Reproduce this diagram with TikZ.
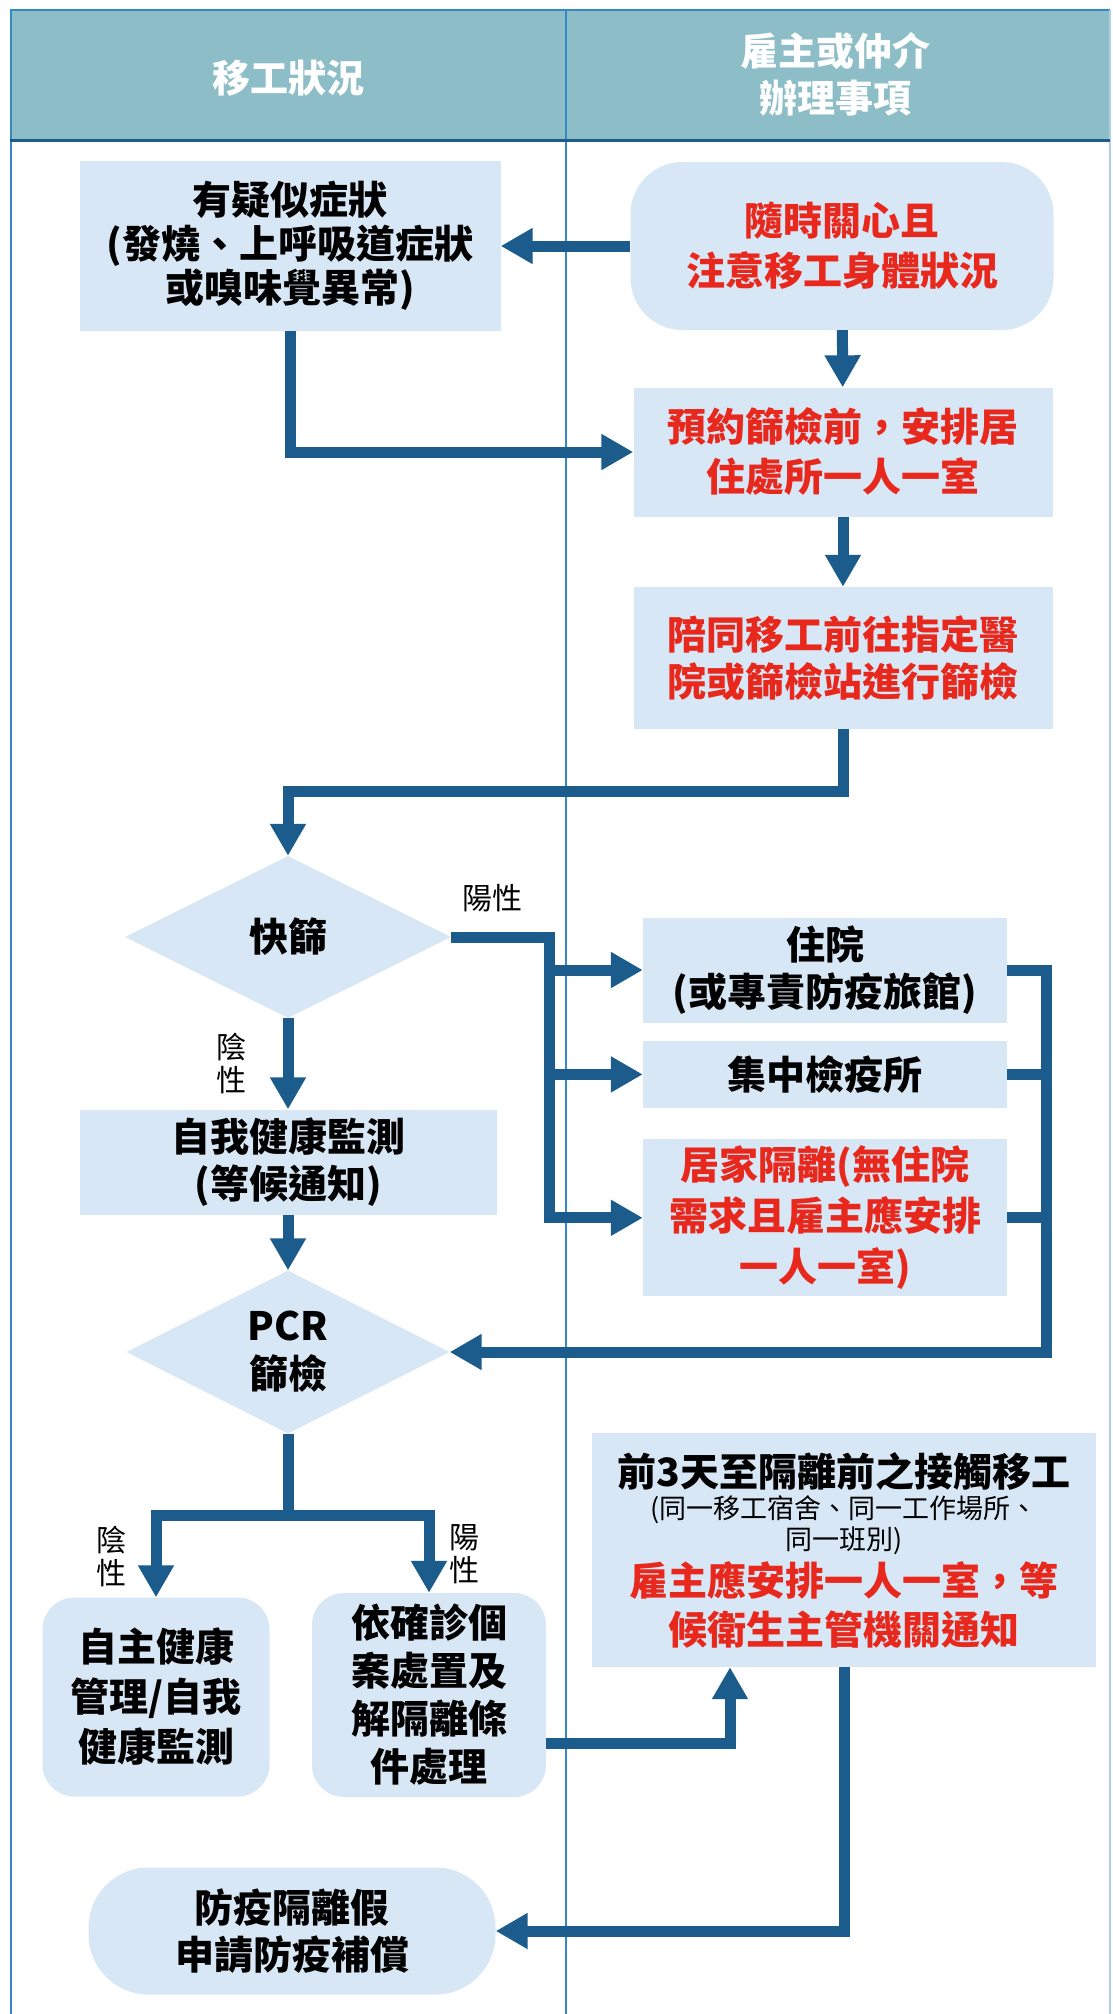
\documentclass[tikz,border=0pt]{standalone}
\usepackage{fontspec}
\setmainfont{Noto Sans CJK TC}
\usetikzlibrary{arrows.meta, positioning, shapes.geometric, calc}
\definecolor{flowblue}{RGB}{28,92,140}
\definecolor{boxblue}{RGB}{216,231,245}
\definecolor{headteal}{RGB}{141,190,200}
\definecolor{frameblue}{RGB}{52,136,196}
\definecolor{alertred}{RGB}{232,40,28}
\newcommand{\smalltxt}{\mdseries\fontsize{27}{31}\selectfont}

\begin{document}
\begin{tikzpicture}[
  x=1pt, y=-1pt, every node/.style={align=center, inner sep=0pt},
  box/.style={fill=boxblue, font=\bfseries\fontsize{39}{47}\selectfont},
  redtext/.style={text=alertred},
  choice/.style={diamond, fill=boxblue, aspect=2, font=\bfseries\fontsize{39}{48}\selectfont},
  head/.style={text=white, font=\bfseries\fontsize{38}{47}\selectfont},
  lbl/.style={font=\fontsize{30}{33}\selectfont},
  link/.style={draw=flowblue, line width=11pt},
  flow/.style={link, -{Triangle[length=32pt, width=34pt]}}
]
\useasboundingbox (0,0) rectangle (1112,2014);
\fill[white] (0,0) rectangle (1112,2014);
\fill[headteal] (10,10) rectangle (1110,140);
\draw[frameblue, line width=2pt] (11,2014) -- (11,10) -- (1110,10);
\draw[frameblue!40, line width=1.5pt] (1110,10) -- (1110,2014);
\draw[frameblue, line width=1.5pt] (566,10) -- (566,2014);
\draw[flowblue, line width=3pt] (10,140) -- (1110,140);

\node[head] (hworker) at (288,78) {移工狀況};
\node[head] (hemployer) at (835,74) {雇主或仲介\\辦理事項};

\node[box, minimum width=421pt, minimum height=170pt, font=\bfseries\fontsize{39}{44}\selectfont] (symp) at (290,246) {有疑似症狀\\(發燒、上呼吸道症狀\\或嗅味覺異常)};
\node[box, redtext, rounded corners=52pt, minimum width=423pt, minimum height=168pt, font=\bfseries\fontsize{39}{50}\selectfont] (care) at (842,246) {隨時關心且\\注意移工身體狀況};
\node[box, redtext, minimum width=419pt, minimum height=129pt, font=\bfseries\fontsize{39}{50}\selectfont] (room) at (843,452) {預約篩檢前，安排居\\住處所一人一室};
\node[box, redtext, minimum width=419pt, minimum height=142pt] (escort) at (843,658) {陪同移工前往指定醫\\院或篩檢站進行篩檢};

\node[choice, minimum width=326pt, minimum height=162pt] (quick) at (288,937) {快篩};
\node[box, minimum width=364pt, minimum height=105pt] (hosp) at (825,970) {住院\\(或專責防疫旅館)};
\node[box, minimum width=364pt, minimum height=67pt, below=18pt of hosp] (camp) {集中檢疫所};
\node[box, redtext, minimum width=364pt, minimum height=157pt, font=\bfseries\fontsize{39}{51}\selectfont, below=31pt of camp] (home) {居家隔離(無住院\\需求且雇主應安排\\一人一室)};
\node[box, minimum width=417pt, minimum height=105pt] (selfmon) at (288,1162) {自我健康監測\\(等候通知)};
\node[choice, minimum width=323pt, minimum height=163pt] (pcr) at (288,1352) {PCR\\篩檢};

\node[box, rounded corners=32pt, minimum width=227pt, minimum height=199pt, font=\bfseries\fontsize{39}{50}\selectfont] (selfmgmt) at (156,1697) {自主健康\\管理/自我\\健康監測};
\node[box, rounded corners=32pt, minimum width=234pt, minimum height=204pt, font=\bfseries\fontsize{39}{48}\selectfont] (confirm) at (429,1695) {依確診個\\案處置及\\解隔離條\\件處理};
\node[box, minimum width=504pt, minimum height=234pt] (contact) at (844,1550) {前3天至隔離前之接觸移工\\[-15pt]{\smalltxt (同一移工宿舍、同一工作場所、}\\[-16pt]{\smalltxt 同一班別)}\\[-1pt]{\color{alertred}雇主應安排一人一室，等}\\[2pt]{\color{alertred}候衛生主管機關通知}};
\node[box, rounded corners=60pt, minimum width=407pt, minimum height=127pt] (leave) at (292,1931) {防疫隔離假\\申請防疫補償};

\coordinate (posbus) at (549,937);
\coordinate (rbus) at (1046,1352);

\draw[flow] (care.west) -- (symp.east);
\draw[flow] (care) -- (room);
\draw[flow] (symp.south) |- (room.west);
\draw[flow] (room) -- (escort);
\draw[flow] (escort.south) -- ++(0,62) -| (quick.north);
\draw[flow] (quick.east) -- (posbus) node[pos=0.42, above=20pt, lbl]{陽性} |- (home.west);
\draw[flow] (posbus |- hosp.west) -- (hosp.west);
\draw[flow] (posbus |- camp.west) -- (camp.west);
\draw[flow] (hosp.east) -| (rbus) -- (pcr.east);
\draw[link] (camp.east) -- (camp.east -| rbus);
\draw[link] (home.east) -- (home.east -| rbus);
\draw[flow] (quick.south) -- (selfmon.north) node[midway, left=36pt, lbl]{陰\\性};
\draw[flow] (selfmon) -- (pcr);
\draw[link] (pcr.south) -- ++(0,82) coordinate (fork);
\draw[flow] (fork) -| (selfmgmt.north) node[pos=0.75, left=24pt, lbl]{陰\\性};
\draw[flow] (fork) -| (confirm.north) node[pos=0.75, right=15pt, lbl]{陽\\性};
\draw[flow] ($(confirm.east)+(0,48)$) -| ($(contact.south)+(-114,0)$);
\draw[flow] (contact.south) |- (leave.east);
\end{tikzpicture}
\end{document}
